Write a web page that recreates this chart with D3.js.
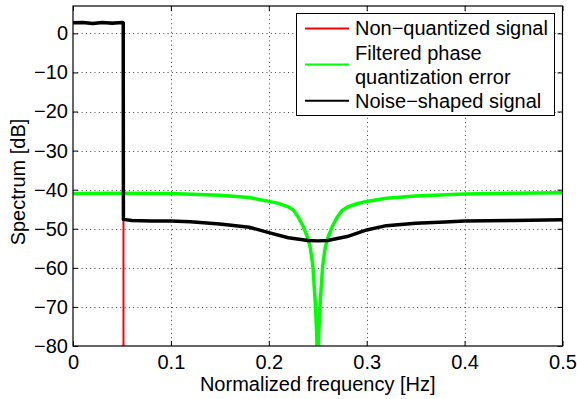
<!DOCTYPE html>
<html>
<head>
<meta charset="utf-8">
<script src="https://cdn.jsdelivr.net/npm/d3@7"></script>
<style>
  body { margin: 0; background: #fff; }
  svg { font-family: "Liberation Sans", Arial, sans-serif; }
</style>
</head>
<body>
<svg id="chart" width="577" height="399"></svg>
<script>
// tick values
const xTicks = [0, 0.1, 0.2, 0.3, 0.4, 0.5];
const yTicks = [-80, -70, -60, -50, -40, -30, -20, -10, 0];

// non-quantized signal (red)
const redFreq = [0, 0.01, 0.02, 0.03, 0.04, 0.05, 0.0515, 0.0516];
const redDb   = [2.7, 2.8, 2.6, 2.8, 2.7, 2.8, 2.7, -120];

// filtered phase quantization error (green)
const greenFreq = [0, 0.05, 0.1, 0.15, 0.18, 0.2, 0.21, 0.22, 0.225, 0.23, 0.235, 0.24, 0.2425,
  0.245, 0.2475, 0.249, 0.2495, 0.25, 0.2505, 0.251, 0.2525, 0.255, 0.2575, 0.26, 0.265, 0.27,
  0.275, 0.28, 0.29, 0.3, 0.32, 0.35, 0.4, 0.45, 0.5];
const greenDb = [-41.0, -40.9, -41.0, -41.4, -42.0, -43.0, -43.5, -44.4, -45.2, -47.0, -49.3, -52.5, -55.0,
  -59.5, -69, -77, -84, -100, -84, -77, -69, -59.5, -55.0, -52.5, -49.3, -47.0,
  -45.3, -44.5, -43.6, -43.0, -42.2, -41.6, -41.1, -40.9, -40.8];

// noise-shaped signal (black)
const blackFreq = [0, 0.01, 0.02, 0.03, 0.04, 0.05, 0.0513, 0.0515, 0.06, 0.08, 0.1, 0.12, 0.15,
  0.18, 0.2, 0.22, 0.24, 0.25, 0.26, 0.28, 0.3, 0.32, 0.35, 0.38, 0.4, 0.45, 0.5];
const blackDb = [2.7, 2.8, 2.5, 2.8, 2.6, 2.8, 2.7, -47.6, -47.9, -48.0, -48.0, -48.2, -48.8,
  -49.6, -51.0, -52.3, -53.0, -53.1, -53.0, -52.0, -50.3, -49.2, -48.6, -48.3, -48.0, -47.9, -47.7];

const legendLabels = [["Non\u2212quantized signal"], ["Filtered phase", "quantization error"], ["Noise\u2212shaped signal"]];
const legendColors = ["#ff0000", "#00ff00", "#000000"];

const svg = d3.select("#chart");
const pl = 73, pr = 562.5, pt = 6, pb = 346;
const fs = "20px";

const x = d3.scaleLinear().domain([0, 0.5]).range([pl, pr]);
const y = d3.scaleLinear().domain([-80, 7]).range([pb, pt]);

svg.append("defs").append("clipPath").attr("id", "plotclip")
  .append("rect").attr("x", pl).attr("y", pt).attr("width", pr - pl).attr("height", pb - pt);

// grid
const grid = svg.append("g").attr("stroke", "#444").attr("stroke-width", 1).attr("stroke-dasharray", "1,3.3");
grid.selectAll(".gx").data(xTicks.slice(1, -1)).enter().append("line")
  .attr("x1", d => Math.round(x(d)) + 0.5).attr("x2", d => Math.round(x(d)) + 0.5)
  .attr("y1", pt).attr("y2", pb);
grid.selectAll(".gy").data(yTicks.slice(1)).enter().append("line")
  .attr("y1", d => Math.round(y(d)) + 0.5).attr("y2", d => Math.round(y(d)) + 0.5)
  .attr("x1", pl).attr("x2", pr);

// series
const line = d3.line().x(d => x(d[0])).y(d => y(d[1]));
const series = [
  { f: redFreq, v: redDb, color: "#ff0000", w: 2 },
  { f: greenFreq, v: greenDb, color: "#00ff00", w: 3.5 },
  { f: blackFreq, v: blackDb, color: "#000000", w: 3.5 }
];
svg.append("g").attr("clip-path", "url(#plotclip)")
  .selectAll("path").data(series).enter().append("path")
  .attr("fill", "none")
  .attr("stroke", d => d.color)
  .attr("stroke-width", d => d.w)
  .attr("stroke-linejoin", "round")
  .attr("d", d => line(d.f.map((f, i) => [f, d.v[i]])));

// axes
const fmtX = d => d === 0 ? "0" : d3.format(".1f")(d);
const axB = svg.append("g").attr("transform", `translate(0,${pb})`)
  .call(d3.axisBottom(x).tickValues(xTicks).tickFormat(fmtX).tickSize(-5).tickPadding(9));
const axT = svg.append("g").attr("transform", `translate(0,${pt})`)
  .call(d3.axisTop(x).tickValues(xTicks).tickFormat("").tickSize(-5));
const axL = svg.append("g").attr("transform", `translate(${pl},0)`)
  .call(d3.axisLeft(y).tickValues(yTicks).tickSize(-5).tickPadding(5));
const axR = svg.append("g").attr("transform", `translate(${pr},0)`)
  .call(d3.axisRight(y).tickValues(yTicks).tickFormat("").tickSize(-5));
[axB, axT, axL, axR].forEach(a => {
  a.select(".domain").remove();
  a.selectAll("line").attr("stroke", "#000");
  a.selectAll("text").attr("fill", "#000").style("font-size", fs);
});

svg.append("rect").attr("x", pl).attr("y", pt).attr("width", pr - pl).attr("height", pb - pt)
  .attr("fill", "none").attr("stroke", "#000").attr("stroke-width", 1.2);

// axis labels
svg.append("text").attr("x", (pl + pr) / 2).attr("y", 391)
  .attr("text-anchor", "middle").style("font-size", fs).text("Normalized frequency [Hz]");
svg.append("text").attr("transform", `translate(25,182) rotate(-90)`)
  .attr("text-anchor", "middle").style("font-size", fs).text("Spectrum [dB]");

// legend
const lg = svg.append("g");
lg.append("rect").attr("x", 296.5).attr("y", 13.5).attr("width", 258).attr("height", 102)
  .attr("fill", "#fff").attr("stroke", "#000").attr("stroke-width", 1);
const rowY = [[28.3], [52.5, 76.7], [100.8]];
const sampleY = [28.5, 64.6, 100.8];
legendLabels.forEach((lines, i) => {
  lg.append("line").attr("x1", 305).attr("x2", 349).attr("y1", sampleY[i]).attr("y2", sampleY[i])
    .attr("stroke", legendColors[i]).attr("stroke-width", 2);
  lines.forEach((t, j) => {
    lg.append("text").attr("x", 355).attr("y", rowY[i][j]).attr("dy", "0.35em")
      .style("font-size", fs).text(t);
  });
});
</script>
</body>
</html>
